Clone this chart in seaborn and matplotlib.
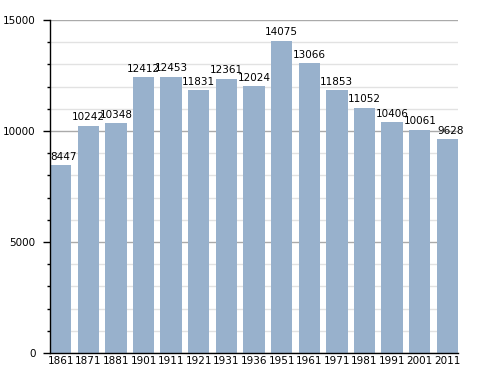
import matplotlib
matplotlib.use("Agg")
import matplotlib.pyplot as plt
import seaborn as sns
import pandas as pd
from matplotlib.ticker import MultipleLocator

years = ["1861", "1871", "1881", "1901", "1911", "1921", "1931", "1936",
         "1951", "1961", "1971", "1981", "1991", "2001", "2011"]
population = [8447, 10242, 10348, 12412, 12453, 11831, 12361, 12024,
              14075, 13066, 11853, 11052, 10406, 10061, 9628]

df = pd.DataFrame({"year": years, "pop": population})

sns.set_style("white")
plt.rcParams['font.family'] = ['DejaVu Sans']
plt.rcParams['text.color'] = 'black'
plt.rcParams['xtick.color'] = 'black'
plt.rcParams['ytick.color'] = 'black'

fig = plt.figure(figsize=(4.88, 3.73), dpi=100)
ax = fig.add_axes([50/488, 20/373, 408/488, 333/373])

w = 0.77
sns.barplot(data=df, x="year", y="pop", color="#98b1cc", saturation=1,
            width=w, ax=ax, linewidth=0, edgecolor="none")

ax.set_xlim(-w/2, len(years) - 1 + w/2)
ax.set_ylim(0, 15000)
ax.yaxis.set_major_locator(MultipleLocator(5000))
ax.yaxis.set_minor_locator(MultipleLocator(1000))
ax.set_axisbelow(True)
ax.grid(which="major", axis="y", color="#aaaaaa", linewidth=1)
ax.grid(which="minor", axis="y", color="#e2e2e2", linewidth=1)

for s in ["top", "right"]:
    ax.spines[s].set_visible(False)
for s in ["left", "bottom"]:
    ax.spines[s].set_color("black")
    ax.spines[s].set_linewidth(1)

ax.tick_params(axis="y", which="major", length=5, width=1, color="black",
               labelsize=7.5, pad=5.5, left=True, labelcolor="black")
ax.tick_params(axis="y", which="minor", length=2.5, width=1, color="black", left=True)
ax.tick_params(axis="x", length=0, labelsize=7.5, pad=2.5, labelcolor="black")
ax.set_xlabel("")
ax.set_ylabel("")

fig.canvas.draw()
ax.yaxis.get_major_ticks()[0].label1.set_verticalalignment("bottom")

for i, v in enumerate(population):
    ax.annotate(str(v), xy=(i + w/2, v), xytext=(4.2, 3.8),
                textcoords="offset points", ha="right", va="baseline",
                fontsize=7.5, color="black", annotation_clip=False)

fig.savefig("out.png", dpi=100)
